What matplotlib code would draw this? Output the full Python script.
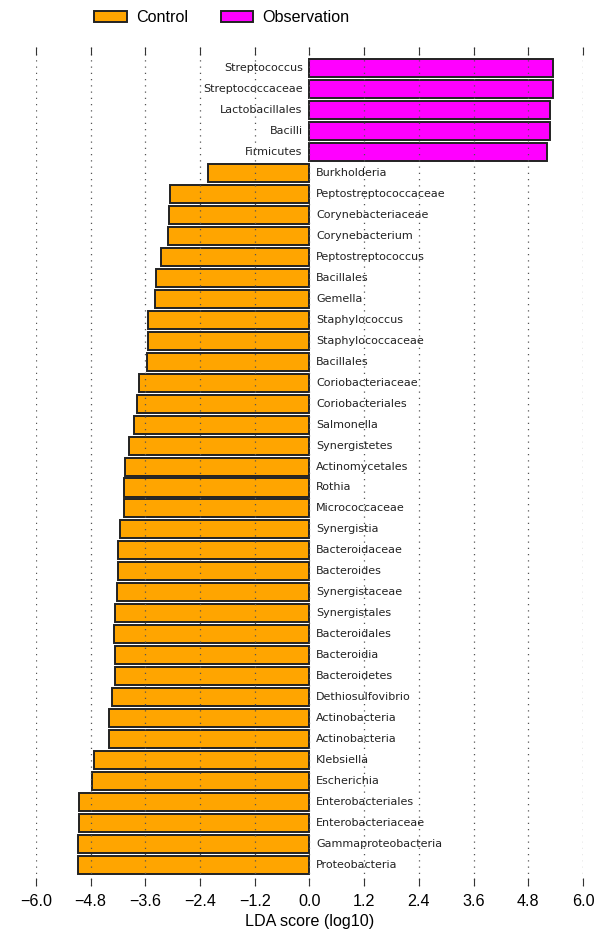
import matplotlib
matplotlib.use("Agg")
import matplotlib.pyplot as plt
from matplotlib.patches import Patch

# LDA effect sizes, listed top to bottom
taxa = [
    "Streptococcus", "Streptococcaceae", "Lactobacillales", "Bacilli", "Firmicutes",
    "Burkholderia", "Peptostreptococcaceae", "Corynebacteriaceae", "Corynebacterium",
    "Peptostreptococcus", "Bacillales", "Gemella", "Staphylococcus", "Staphylococcaceae",
    "Bacillales", "Coriobacteriaceae", "Coriobacteriales", "Salmonella", "Synergistetes",
    "Actinomycetales", "Rothia", "Micrococcaceae", "Synergistia", "Bacteroidaceae",
    "Bacteroides", "Synergistaceae", "Synergistales", "Bacteroidales", "Bacteroidia",
    "Bacteroidetes", "Dethiosulfovibrio", "Actinobacteria", "Actinobacteria", "Klebsiella",
    "Escherichia", "Enterobacteriales", "Enterobacteriaceae", "Gammaproteobacteria",
    "Proteobacteria",
]
lda = [
    5.35, 5.35, 5.28, 5.28, 5.21,
    -2.23, -3.06, -3.09, -3.10, -3.25, -3.36, -3.38, -3.54, -3.54, -3.56,
    -3.73, -3.78, -3.84, -3.97, -4.04, -4.08, -4.08, -4.16, -4.21, -4.21,
    -4.23, -4.26, -4.28, -4.27, -4.27, -4.34, -4.40, -4.40, -4.72, -4.77,
    -5.06, -5.06, -5.07, -5.07,
]
groups = ["Control", "Observation"]
group_colors = {"Control": "#FFA500", "Observation": "#FF00FF"}
xticks = [-6.0, -4.8, -3.6, -2.4, -1.2, 0.0, 1.2, 2.4, 3.6, 4.8, 6.0]

fig = plt.figure(figsize=(6.06, 9.31), dpi=100)
ax = fig.add_axes([0.0594, 0.0483, 0.9026, 0.9012])

n = len(taxa)
ypos = [n - 1 - i for i in range(n)]
colors = [group_colors["Observation"] if v > 0 else group_colors["Control"] for v in lda]

ax.barh(ypos, lda, height=0.86, color=colors, edgecolor="#222222",
        linewidth=1.4, zorder=2)

for y, v, name in zip(ypos, lda, taxa):
    if v < 0:
        ax.text(0.15, y, name, ha="left", va="center", fontsize=8,
                family="DejaVu Sans", color="#222222", zorder=4)
    else:
        ax.text(-0.15, y, name, ha="right", va="center", fontsize=8,
                family="DejaVu Sans", color="#222222", zorder=4)

ax.set_xlim(-6.0, 6.0)
ax.set_ylim(-1, n)
ax.set_xticks(xticks)
ax.set_xticklabels([f"{t:.1f}".replace("-", "\u2212") for t in xticks],
                   fontsize=11.6, family="Liberation Sans")
ax.set_yticks([])
ax.tick_params(axis="x", direction="in", length=6, width=0.8, top=True,
               pad=6, color="#333333")
ax.grid(axis="x", linestyle=(0, (1, 4)), linewidth=0.9, color="#555555", zorder=3)
ax.set_axisbelow(False)
for s in ax.spines.values():
    s.set_visible(False)

ax.set_xlabel("LDA score (log10)", fontsize=11.6, family="Liberation Sans", labelpad=3)

handles = [Patch(facecolor=group_colors[g], edgecolor="#222222", linewidth=1.4, label=g)
           for g in groups]
fig.legend(handles=handles, loc="center", bbox_to_anchor=(222 / 606, 1 - 17.5 / 931),
           ncol=2, frameon=False, prop={"family": "Liberation Sans", "size": 11.6},
           handlelength=2.0, handleheight=0.68, handletextpad=0.6, columnspacing=2.0)

fig.savefig("out.png", dpi=100)
